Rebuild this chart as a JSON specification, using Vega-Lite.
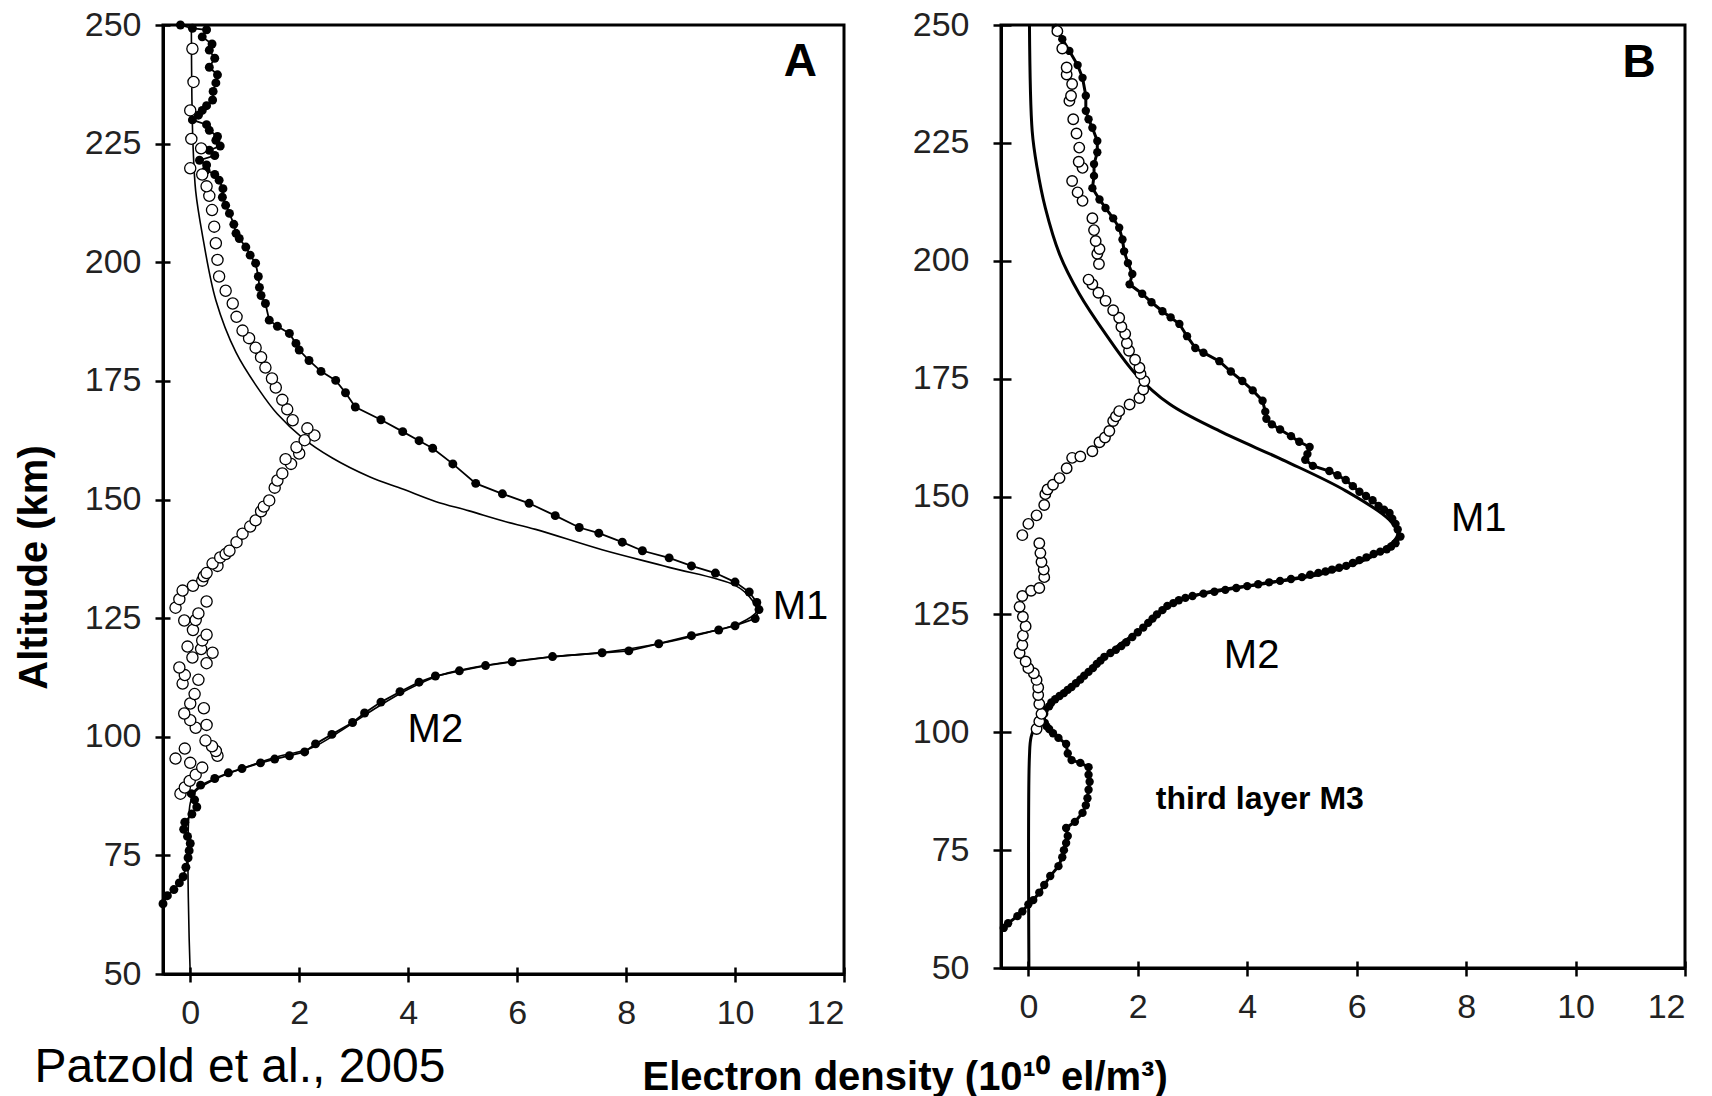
{
  "$schema": "https://vega.github.io/schema/vega-lite/v6.json",
  "background": "white",
  "padding": {"left": 12, "top": 6, "right": 5, "bottom": 0},
  "config": {
    "font": "Liberation Sans",
    "view": {"stroke": "black", "strokeWidth": 3},
    "axis": {"grid": false, "domainColor": "black", "domainWidth": 3, "tickColor": "black", "tickWidth": 2.5, "tickSize": 8, "labelFont": "Liberation Sans", "labelFontSize": 34, "labelColor": "#222", "titleFont": "Liberation Sans", "titleColor": "black"}
  },
  "datasets": {
    "a_model": [
      {"x": 0, "alt": 50}, {"x": 0, "alt": 86}, {"x": 0.1, "alt": 88.5}, {"x": 0.45, "alt": 91}, {"x": 1.0, "alt": 93.5}, {"x": 1.6, "alt": 95.8}, {"x": 2.2, "alt": 97.5}, {"x": 2.8, "alt": 101.5}, {"x": 3.4, "alt": 106}, {"x": 4.0, "alt": 110}, {"x": 4.6, "alt": 113}, {"x": 5.4, "alt": 115}, {"x": 6.6, "alt": 116.8}, {"x": 7.6, "alt": 117.8}, {"x": 8.6, "alt": 119.6}, {"x": 9.5, "alt": 122}, {"x": 10.1, "alt": 124}, {"x": 10.4, "alt": 126.5}, {"x": 10.3, "alt": 129}, {"x": 10.0, "alt": 131.9}, {"x": 8.79, "alt": 135.7}, {"x": 7.56, "alt": 139.4}, {"x": 6.34, "alt": 143.7}, {"x": 5.73, "alt": 145.5}, {"x": 5.12, "alt": 147.6}, {"x": 4.5, "alt": 149.6}, {"x": 3.9, "alt": 152.2}, {"x": 3.29, "alt": 154.8}, {"x": 2.6, "alt": 158.8}, {"x": 2.06, "alt": 163}, {"x": 1.6, "alt": 168}, {"x": 1.27, "alt": 173}, {"x": 0.84, "alt": 181}, {"x": 0.47, "alt": 192}, {"x": 0.22, "alt": 206}, {"x": 0.1, "alt": 215}, {"x": 0.05, "alt": 225}, {"x": 0.03, "alt": 235}, {"x": 0.02, "alt": 250}
    ],
    "a_filled": [
      {"x": -0.5, "alt": 64.8}, {"x": -0.42, "alt": 66.5}, {"x": -0.3, "alt": 67.8}, {"x": -0.2, "alt": 69.2}, {"x": -0.13, "alt": 70.5}, {"x": -0.08, "alt": 72.5}, {"x": -0.04, "alt": 74.5}, {"x": -0.02, "alt": 76}, {"x": 0.0, "alt": 77.5}, {"x": -0.05, "alt": 79}, {"x": -0.12, "alt": 80.5}, {"x": -0.1, "alt": 82}, {"x": 0.03, "alt": 83.7}, {"x": 0.12, "alt": 85.2}, {"x": 0.08, "alt": 86.7}, {"x": 0.02, "alt": 88}, {"x": 0.19, "alt": 89.8}, {"x": 0.45, "alt": 91.2}, {"x": 0.7, "alt": 92.4}, {"x": 0.95, "alt": 93.3}, {"x": 1.29, "alt": 94.5}, {"x": 1.55, "alt": 95.3}, {"x": 1.82, "alt": 96}, {"x": 2.1, "alt": 96.8}, {"x": 2.3, "alt": 98.5}, {"x": 2.6, "alt": 100.5}, {"x": 2.98, "alt": 103}, {"x": 3.2, "alt": 105}, {"x": 3.5, "alt": 107.3}, {"x": 3.85, "alt": 109.5}, {"x": 4.2, "alt": 111.5}, {"x": 4.5, "alt": 112.8}, {"x": 4.94, "alt": 113.9}, {"x": 5.42, "alt": 115}, {"x": 5.91, "alt": 115.8}, {"x": 6.65, "alt": 116.9}, {"x": 7.56, "alt": 117.7}, {"x": 8.05, "alt": 118.1}, {"x": 8.6, "alt": 119.6}, {"x": 9.2, "alt": 121.3}, {"x": 9.7, "alt": 122.5}, {"x": 10.0, "alt": 123.4}, {"x": 10.37, "alt": 124.9}, {"x": 10.44, "alt": 126.8}, {"x": 10.4, "alt": 128.3}, {"x": 10.26, "alt": 130.5}, {"x": 10.0, "alt": 132.6}, {"x": 9.64, "alt": 134.5}, {"x": 9.2, "alt": 136}, {"x": 8.79, "alt": 137.7}, {"x": 8.3, "alt": 139.2}, {"x": 7.93, "alt": 141}, {"x": 7.5, "alt": 142.9}, {"x": 7.14, "alt": 144.1}, {"x": 6.7, "alt": 146.6}, {"x": 6.22, "alt": 149.2}, {"x": 5.73, "alt": 151.2}, {"x": 5.24, "alt": 153.4}, {"x": 4.82, "alt": 157.5}, {"x": 4.45, "alt": 160.8}, {"x": 4.2, "alt": 162.4}, {"x": 3.9, "alt": 164.3}, {"x": 3.5, "alt": 166.8}, {"x": 3.03, "alt": 169.5}, {"x": 2.85, "alt": 172.5}, {"x": 2.67, "alt": 175.1}, {"x": 2.4, "alt": 177}, {"x": 2.18, "alt": 179.3}, {"x": 2.0, "alt": 181.5}, {"x": 1.94, "alt": 182.9}, {"x": 1.82, "alt": 185}, {"x": 1.6, "alt": 186.5}, {"x": 1.45, "alt": 187.8}, {"x": 1.38, "alt": 191.3}, {"x": 1.3, "alt": 193}, {"x": 1.27, "alt": 194.7}, {"x": 1.25, "alt": 197}, {"x": 1.2, "alt": 199.8}, {"x": 1.1, "alt": 201.5}, {"x": 1.02, "alt": 203.2}, {"x": 0.9, "alt": 205}, {"x": 0.84, "alt": 206.1}, {"x": 0.8, "alt": 208}, {"x": 0.72, "alt": 210.3}, {"x": 0.65, "alt": 212}, {"x": 0.59, "alt": 213.7}, {"x": 0.6, "alt": 215.5}, {"x": 0.53, "alt": 217.3}, {"x": 0.45, "alt": 218.5}, {"x": 0.29, "alt": 219.4}, {"x": 0.3, "alt": 220.5}, {"x": 0.17, "alt": 221.5}, {"x": 0.45, "alt": 222.5}, {"x": 0.35, "alt": 223.6}, {"x": 0.55, "alt": 224.5}, {"x": 0.47, "alt": 225.7}, {"x": 0.5, "alt": 226.5}, {"x": 0.35, "alt": 227.8}, {"x": 0.3, "alt": 229}, {"x": 0.04, "alt": 230}, {"x": 0.15, "alt": 231}, {"x": 0.22, "alt": 232}, {"x": 0.3, "alt": 233}, {"x": 0.41, "alt": 234.2}, {"x": 0.42, "alt": 236}, {"x": 0.47, "alt": 237.8}, {"x": 0.5, "alt": 239.5}, {"x": 0.35, "alt": 241.1}, {"x": 0.45, "alt": 243}, {"x": 0.35, "alt": 244.7}, {"x": 0.4, "alt": 246}, {"x": 0.22, "alt": 247.5}, {"x": 0.3, "alt": 249}, {"x": 0.04, "alt": 249.3}, {"x": -0.18, "alt": 250}
    ],
    "a_open": [
      {"x": 0.04, "alt": 245}, {"x": 0.06, "alt": 238}, {"x": 0.0, "alt": 232}, {"x": 0.02, "alt": 226}, {"x": 0.2, "alt": 224}, {"x": 0.0, "alt": 219.8}, {"x": 0.22, "alt": 218.5}, {"x": 0.3, "alt": 216}, {"x": 0.35, "alt": 214}, {"x": 0.4, "alt": 211}, {"x": 0.44, "alt": 207.5}, {"x": 0.47, "alt": 204}, {"x": 0.5, "alt": 200.5}, {"x": 0.53, "alt": 197}, {"x": 0.65, "alt": 194}, {"x": 0.78, "alt": 191.3}, {"x": 0.85, "alt": 188.5}, {"x": 0.96, "alt": 185.6}, {"x": 1.08, "alt": 184}, {"x": 1.2, "alt": 182}, {"x": 1.3, "alt": 180}, {"x": 1.38, "alt": 177.8}, {"x": 1.5, "alt": 175.5}, {"x": 1.57, "alt": 173.6}, {"x": 1.69, "alt": 171}, {"x": 1.78, "alt": 169}, {"x": 1.88, "alt": 166.7}, {"x": 2.15, "alt": 165}, {"x": 2.28, "alt": 163.5}, {"x": 2.1, "alt": 162.5}, {"x": 1.95, "alt": 161}, {"x": 2.0, "alt": 159.7}, {"x": 1.75, "alt": 158.5}, {"x": 1.85, "alt": 157.5}, {"x": 1.69, "alt": 155.5}, {"x": 1.6, "alt": 154}, {"x": 1.55, "alt": 152.5}, {"x": 1.45, "alt": 149.8}, {"x": 1.35, "alt": 148.5}, {"x": 1.3, "alt": 147.5}, {"x": 1.2, "alt": 145.6}, {"x": 1.1, "alt": 144.3}, {"x": 0.96, "alt": 142.8}, {"x": 0.85, "alt": 141}, {"x": 0.72, "alt": 139.2}, {"x": 0.65, "alt": 138.5}, {"x": 0.55, "alt": 137.8}, {"x": 0.41, "alt": 136.5}, {"x": 0.5, "alt": 136}, {"x": 0.3, "alt": 134.5}, {"x": 0.25, "alt": 133.8}, {"x": 0.22, "alt": 132.9}, {"x": 0.05, "alt": 131.8}, {"x": -0.14, "alt": 130.8}, {"x": -0.2, "alt": 129}, {"x": 0.3, "alt": 128.5}, {"x": -0.27, "alt": 127.2}, {"x": 0.15, "alt": 126}, {"x": -0.11, "alt": 124.5}, {"x": 0.1, "alt": 124.6}, {"x": 0.05, "alt": 122.5}, {"x": 0.3, "alt": 121.5}, {"x": 0.22, "alt": 120.3}, {"x": -0.05, "alt": 119}, {"x": 0.2, "alt": 118.5}, {"x": 0.41, "alt": 117.7}, {"x": 0.04, "alt": 116.7}, {"x": 0.3, "alt": 115.5}, {"x": -0.2, "alt": 114.6}, {"x": -0.1, "alt": 113}, {"x": 0.15, "alt": 112}, {"x": -0.14, "alt": 111.2}, {"x": 0.08, "alt": 109}, {"x": 0.0, "alt": 107}, {"x": 0.25, "alt": 106}, {"x": -0.11, "alt": 104.9}, {"x": 0.0, "alt": 103.5}, {"x": 0.3, "alt": 102.5}, {"x": 0.1, "alt": 101.9}, {"x": 0.28, "alt": 99.2}, {"x": 0.4, "alt": 98}, {"x": -0.1, "alt": 97.5}, {"x": 0.47, "alt": 97}, {"x": 0.5, "alt": 96}, {"x": -0.27, "alt": 95.4}, {"x": 0.0, "alt": 94.5}, {"x": 0.22, "alt": 93.5}, {"x": 0.1, "alt": 92}, {"x": -0.01, "alt": 90.7}, {"x": -0.1, "alt": 89.3}, {"x": -0.18, "alt": 88}
    ],
    "b_model": [
      {"x": 0.01, "alt": 50}, {"x": 0.02, "alt": 95}, {"x": 0.05, "alt": 99}, {"x": 0.15, "alt": 102}, {"x": 0.35, "alt": 105}, {"x": 0.7, "alt": 109}, {"x": 1.1, "alt": 113}, {"x": 1.6, "alt": 118}, {"x": 2.2, "alt": 123}, {"x": 2.6, "alt": 127}, {"x": 3.2, "alt": 129.5}, {"x": 4.3, "alt": 131.5}, {"x": 5.5, "alt": 134}, {"x": 6.4, "alt": 138}, {"x": 6.75, "alt": 142}, {"x": 6.6, "alt": 145}, {"x": 5.8, "alt": 151.2}, {"x": 4.7, "alt": 157.5}, {"x": 3.49, "alt": 163.9}, {"x": 2.58, "alt": 169.6}, {"x": 1.96, "alt": 176}, {"x": 1.41, "alt": 184.5}, {"x": 0.93, "alt": 193}, {"x": 0.57, "alt": 201.4}, {"x": 0.31, "alt": 211.2}, {"x": 0.16, "alt": 219.7}, {"x": 0.07, "alt": 227.5}, {"x": 0.02, "alt": 250}
    ],
    "b_filled": [
      {"x": -0.45, "alt": 58.5}, {"x": -0.37, "alt": 59.5}, {"x": -0.2, "alt": 61}, {"x": -0.11, "alt": 62}, {"x": 0.0, "alt": 63.5}, {"x": 0.09, "alt": 64.4}, {"x": 0.2, "alt": 66}, {"x": 0.29, "alt": 67.6}, {"x": 0.4, "alt": 69.5}, {"x": 0.55, "alt": 71.6}, {"x": 0.62, "alt": 73.5}, {"x": 0.65, "alt": 75}, {"x": 0.69, "alt": 76.5}, {"x": 0.72, "alt": 78}, {"x": 0.69, "alt": 79.7}, {"x": 0.85, "alt": 81}, {"x": 0.99, "alt": 82.9}, {"x": 1.05, "alt": 84.5}, {"x": 1.08, "alt": 86}, {"x": 1.1, "alt": 87.8}, {"x": 1.12, "alt": 89.5}, {"x": 1.1, "alt": 91}, {"x": 1.1, "alt": 92.6}, {"x": 0.95, "alt": 93.5}, {"x": 0.79, "alt": 94.1}, {"x": 0.72, "alt": 95.5}, {"x": 0.69, "alt": 97.5}, {"x": 0.55, "alt": 98.8}, {"x": 0.45, "alt": 99.8}, {"x": 0.38, "alt": 100.7}, {"x": 0.33, "alt": 101.3}, {"x": 0.3, "alt": 102}, {"x": 0.29, "alt": 103.9}, {"x": 0.3, "alt": 104.7}, {"x": 0.38, "alt": 105.5}, {"x": 0.42, "alt": 106.3}, {"x": 0.49, "alt": 107}, {"x": 0.57, "alt": 107.7}, {"x": 0.65, "alt": 108.3}, {"x": 0.72, "alt": 109}, {"x": 0.79, "alt": 109.6}, {"x": 0.87, "alt": 110.4}, {"x": 0.95, "alt": 111.2}, {"x": 1.02, "alt": 112}, {"x": 1.1, "alt": 112.8}, {"x": 1.18, "alt": 113.6}, {"x": 1.25, "alt": 114.5}, {"x": 1.32, "alt": 115.2}, {"x": 1.39, "alt": 116}, {"x": 1.5, "alt": 116.8}, {"x": 1.6, "alt": 117.5}, {"x": 1.7, "alt": 118.3}, {"x": 1.79, "alt": 119.1}, {"x": 1.9, "alt": 120.2}, {"x": 2.0, "alt": 121.2}, {"x": 2.1, "alt": 122.2}, {"x": 2.19, "alt": 123.2}, {"x": 2.27, "alt": 124.1}, {"x": 2.35, "alt": 125}, {"x": 2.45, "alt": 125.9}, {"x": 2.54, "alt": 126.8}, {"x": 2.65, "alt": 127.4}, {"x": 2.75, "alt": 128}, {"x": 2.87, "alt": 128.5}, {"x": 3.0, "alt": 128.9}, {"x": 3.2, "alt": 129.4}, {"x": 3.4, "alt": 129.8}, {"x": 3.6, "alt": 130.2}, {"x": 3.8, "alt": 130.6}, {"x": 4.0, "alt": 131}, {"x": 4.2, "alt": 131.4}, {"x": 4.4, "alt": 131.8}, {"x": 4.6, "alt": 132.1}, {"x": 4.8, "alt": 132.5}, {"x": 5.0, "alt": 132.9}, {"x": 5.15, "alt": 133.4}, {"x": 5.3, "alt": 133.8}, {"x": 5.43, "alt": 134.1}, {"x": 5.55, "alt": 134.5}, {"x": 5.68, "alt": 134.9}, {"x": 5.81, "alt": 135.3}, {"x": 5.93, "alt": 135.9}, {"x": 6.05, "alt": 136.5}, {"x": 6.18, "alt": 137.1}, {"x": 6.31, "alt": 137.8}, {"x": 6.43, "alt": 138.3}, {"x": 6.55, "alt": 138.8}, {"x": 6.63, "alt": 139.4}, {"x": 6.71, "alt": 140.1}, {"x": 6.8, "alt": 141.5}, {"x": 6.75, "alt": 143}, {"x": 6.71, "alt": 144.2}, {"x": 6.65, "alt": 145.3}, {"x": 6.6, "alt": 146.5}, {"x": 6.5, "alt": 147.2}, {"x": 6.4, "alt": 148}, {"x": 6.29, "alt": 149.2}, {"x": 6.17, "alt": 150.1}, {"x": 6.05, "alt": 151}, {"x": 5.93, "alt": 152.2}, {"x": 5.8, "alt": 153.5}, {"x": 5.65, "alt": 154.5}, {"x": 5.5, "alt": 155.4}, {"x": 5.2, "alt": 156.5}, {"x": 5.06, "alt": 157.8}, {"x": 5.1, "alt": 159}, {"x": 5.14, "alt": 160.5}, {"x": 4.95, "alt": 161.6}, {"x": 4.8, "alt": 162.8}, {"x": 4.6, "alt": 164.2}, {"x": 4.45, "alt": 165.3}, {"x": 4.35, "alt": 166.5}, {"x": 4.33, "alt": 168}, {"x": 4.28, "alt": 170.3}, {"x": 4.1, "alt": 172.5}, {"x": 3.91, "alt": 174.5}, {"x": 3.7, "alt": 176.5}, {"x": 3.49, "alt": 178.7}, {"x": 3.2, "alt": 180.5}, {"x": 3.05, "alt": 181.5}, {"x": 2.9, "alt": 184}, {"x": 2.76, "alt": 186.6}, {"x": 2.6, "alt": 188}, {"x": 2.45, "alt": 189.3}, {"x": 2.25, "alt": 191.2}, {"x": 2.08, "alt": 193}, {"x": 1.85, "alt": 195}, {"x": 1.9, "alt": 197.2}, {"x": 1.82, "alt": 199.5}, {"x": 1.75, "alt": 202}, {"x": 1.72, "alt": 204.5}, {"x": 1.66, "alt": 207}, {"x": 1.55, "alt": 209}, {"x": 1.41, "alt": 211.2}, {"x": 1.3, "alt": 213}, {"x": 1.17, "alt": 215.4}, {"x": 1.2, "alt": 218}, {"x": 1.2, "alt": 220.5}, {"x": 1.26, "alt": 223}, {"x": 1.26, "alt": 225.4}, {"x": 1.17, "alt": 228.2}, {"x": 1.1, "alt": 230}, {"x": 1.05, "alt": 231.8}, {"x": 1.05, "alt": 235}, {"x": 0.99, "alt": 238.8}, {"x": 0.9, "alt": 241.5}, {"x": 0.75, "alt": 244.5}, {"x": 0.62, "alt": 247}, {"x": 0.5, "alt": 249.4}
    ],
    "b_open": [
      {"x": 0.53, "alt": 248.7}, {"x": 0.62, "alt": 245}, {"x": 0.7, "alt": 241}, {"x": 0.7, "alt": 239.5}, {"x": 0.8, "alt": 237.5}, {"x": 0.78, "alt": 235}, {"x": 0.75, "alt": 233.9}, {"x": 0.82, "alt": 230}, {"x": 0.88, "alt": 227}, {"x": 0.93, "alt": 224}, {"x": 0.92, "alt": 221}, {"x": 0.99, "alt": 219.7}, {"x": 0.8, "alt": 216.9}, {"x": 0.9, "alt": 214.5}, {"x": 0.99, "alt": 212.7}, {"x": 1.17, "alt": 209}, {"x": 1.2, "alt": 206.5}, {"x": 1.23, "alt": 204.2}, {"x": 1.3, "alt": 202.5}, {"x": 1.26, "alt": 201.5}, {"x": 1.29, "alt": 199.3}, {"x": 1.1, "alt": 196}, {"x": 1.17, "alt": 195}, {"x": 1.28, "alt": 193.2}, {"x": 1.41, "alt": 191.5}, {"x": 1.55, "alt": 189.5}, {"x": 1.66, "alt": 187.9}, {"x": 1.7, "alt": 186}, {"x": 1.77, "alt": 184.5}, {"x": 1.8, "alt": 182.5}, {"x": 1.84, "alt": 180.9}, {"x": 1.95, "alt": 179}, {"x": 2.03, "alt": 177.3}, {"x": 2.05, "alt": 176}, {"x": 2.12, "alt": 174.5}, {"x": 2.1, "alt": 172.7}, {"x": 2.03, "alt": 170.9}, {"x": 1.85, "alt": 169.5}, {"x": 1.66, "alt": 168.1}, {"x": 1.6, "alt": 167}, {"x": 1.55, "alt": 166}, {"x": 1.48, "alt": 163.9}, {"x": 1.4, "alt": 162.5}, {"x": 1.3, "alt": 161.5}, {"x": 1.17, "alt": 159.6}, {"x": 0.95, "alt": 158.5}, {"x": 0.8, "alt": 158.2}, {"x": 0.7, "alt": 156}, {"x": 0.57, "alt": 153.9}, {"x": 0.45, "alt": 152.5}, {"x": 0.35, "alt": 151.5}, {"x": 0.31, "alt": 150.5}, {"x": 0.29, "alt": 148.2}, {"x": 0.15, "alt": 146}, {"x": 0.0, "alt": 144.2}, {"x": -0.11, "alt": 141.8}, {"x": 0.2, "alt": 140.1}, {"x": 0.22, "alt": 138}, {"x": 0.24, "alt": 136.1}, {"x": 0.28, "alt": 134.5}, {"x": 0.29, "alt": 132.9}, {"x": 0.2, "alt": 130.6}, {"x": 0.05, "alt": 130}, {"x": -0.11, "alt": 128.9}, {"x": -0.16, "alt": 126.6}, {"x": -0.1, "alt": 124.5}, {"x": -0.05, "alt": 122.5}, {"x": -0.1, "alt": 120.5}, {"x": -0.11, "alt": 118.5}, {"x": -0.16, "alt": 116.8}, {"x": -0.05, "alt": 115}, {"x": 0.0, "alt": 113.6}, {"x": 0.1, "alt": 112.5}, {"x": 0.15, "alt": 111.1}, {"x": 0.18, "alt": 109.5}, {"x": 0.18, "alt": 107.9}, {"x": 0.2, "alt": 106}, {"x": 0.24, "alt": 103.9}, {"x": 0.2, "alt": 102.3}, {"x": 0.15, "alt": 100.7}
    ],
    "labels": [
      {"panel": "A", "kind": "letter", "text": "A", "x": 11.2, "alt": 242.2},
      {"panel": "A", "kind": "peak", "text": "M1", "x": 11.2, "alt": 127.4},
      {"panel": "A", "kind": "peak", "text": "M2", "x": 4.5, "alt": 101.4},
      {"panel": "B", "kind": "letter", "text": "B", "x": 11.16, "alt": 242},
      {"panel": "B", "kind": "peak", "text": "M1", "x": 8.23, "alt": 145.3},
      {"panel": "B", "kind": "peak", "text": "M2", "x": 4.08, "alt": 116.1},
      {"panel": "B", "kind": "layer", "text": "third layer M3", "x": 4.23, "alt": 85.8}
    ]
  },
  "bounds": "flush",
  "spacing": 157,
  "hconcat": [
    {
      "width": 681,
      "height": 949,
      "resolve": {"axis": {"x": "independent", "y": "independent"}},
      "encoding": {
        "x": {"field": "x", "type": "quantitative", "scale": {"domain": [-0.5, 12], "nice": false, "zero": false}, "axis": null},
        "y": {"field": "alt", "type": "quantitative", "scale": {"domain": [50, 250], "nice": false, "zero": false}, "axis": null},
        "order": {"field": "alt", "type": "quantitative"}
      },
      "layer": [
        {"data": {"name": "a_model"}, "mark": {"type": "line", "color": "black", "strokeWidth": 1.6, "interpolate": "catmull-rom"},
          "encoding": {
            "x": {"field": "x", "type": "quantitative", "scale": {"domain": [-0.5, 12], "nice": false, "zero": false},
              "axis": {"orient": "bottom", "values": [0, 2, 4, 6, 8, 10, 12], "labelPadding": 14, "title": "Patzold et al., 2005", "titleFontSize": 48, "titleFontWeight": "normal", "titleAlign": "left", "titleAnchor": "start", "titleX": -129, "titlePadding": 13}},
            "y": {"field": "alt", "type": "quantitative", "scale": {"domain": [50, 250], "nice": false, "zero": false},
              "axis": {"orient": "left", "values": [50, 75, 100, 125, 150, 175, 200, 225, 250], "labelPadding": 14, "title": "Altitude (km)", "titleFontSize": 40, "titleFontWeight": "bold", "titlePadding": 30, "titleY": 542}}
          }},
        {"data": {"name": "a_model"}, "mark": {"type": "line", "opacity": 0},
          "encoding": {
            "x": {"field": "x", "type": "quantitative", "scale": {"domain": [-0.5, 12], "nice": false, "zero": false},
              "axis": {"orient": "bottom", "offset": -7, "values": [0, 2, 4, 6, 8, 10, 12], "tickSize": 7, "labels": false, "domain": false, "title": null}},
            "y": {"field": "alt", "type": "quantitative", "scale": {"domain": [50, 250], "nice": false, "zero": false},
              "axis": {"orient": "left", "offset": -7, "values": [50, 75, 100, 125, 150, 175, 200, 225, 250], "tickSize": 7, "labels": false, "domain": false, "title": null}}
          }},
        {"data": {"name": "a_filled"}, "mark": {"type": "line", "color": "black", "strokeWidth": 1.8}},
        {"data": {"name": "a_filled"}, "mark": {"type": "circle", "color": "black", "size": 80, "opacity": 1}},
        {"data": {"name": "a_open"}, "mark": {"type": "point", "shape": "circle", "filled": false, "fill": "white", "fillOpacity": 1, "stroke": "black", "strokeWidth": 1.3, "size": 125, "opacity": 1}},
        {"data": {"name": "labels"}, "transform": [{"filter": "datum.panel === 'A' && datum.kind === 'letter'"}], "mark": {"type": "text", "fontSize": 46, "fontWeight": "bold", "align": "center", "baseline": "middle", "color": "black"}, "encoding": {"text": {"field": "text"}}},
        {"data": {"name": "labels"}, "transform": [{"filter": "datum.panel === 'A' && datum.kind === 'peak'"}], "mark": {"type": "text", "fontSize": 40, "align": "center", "baseline": "middle", "color": "black"}, "encoding": {"text": {"field": "text"}}}
      ]
    },
    {
      "width": 684,
      "height": 943,
      "resolve": {"axis": {"x": "independent", "y": "independent"}},
      "encoding": {
        "x": {"field": "x", "type": "quantitative", "scale": {"domain": [-0.5, 12], "nice": false, "zero": false}, "axis": null},
        "y": {"field": "alt", "type": "quantitative", "scale": {"domain": [50, 250], "nice": false, "zero": false}, "axis": null},
        "order": {"field": "alt", "type": "quantitative"}
      },
      "layer": [
        {"data": {"name": "b_model"}, "mark": {"type": "line", "color": "black", "strokeWidth": 3, "interpolate": "catmull-rom"},
          "encoding": {
            "x": {"field": "x", "type": "quantitative", "scale": {"domain": [-0.5, 12], "nice": false, "zero": false},
              "axis": {"orient": "bottom", "values": [0, 2, 4, 6, 8, 10, 12], "labelPadding": 14, "title": "Electron density (10¹⁰ el/m³)", "titleFontSize": 40, "titleFontWeight": "bold", "titleAlign": "left", "titleAnchor": "start", "titleX": -359, "titlePadding": 33}},
            "y": {"field": "alt", "type": "quantitative", "scale": {"domain": [50, 250], "nice": false, "zero": false},
              "axis": {"orient": "left", "values": [50, 75, 100, 125, 150, 175, 200, 225, 250], "labelPadding": 24, "title": null}}
          }},
        {"data": {"name": "b_model"}, "mark": {"type": "line", "opacity": 0},
          "encoding": {
            "x": {"field": "x", "type": "quantitative", "scale": {"domain": [-0.5, 12], "nice": false, "zero": false},
              "axis": {"orient": "bottom", "offset": -7, "values": [0, 2, 4, 6, 8, 10, 12], "tickSize": 7, "labels": false, "domain": false, "title": null}},
            "y": {"field": "alt", "type": "quantitative", "scale": {"domain": [50, 250], "nice": false, "zero": false},
              "axis": {"orient": "left", "offset": -10, "values": [50, 75, 100, 125, 150, 175, 200, 225, 250], "tickSize": 10, "labels": false, "domain": false, "title": null}}
          }},
        {"data": {"name": "b_filled"}, "mark": {"type": "line", "color": "black", "strokeWidth": 3}},
        {"data": {"name": "b_filled"}, "mark": {"type": "circle", "color": "black", "size": 70, "opacity": 1}},
        {"data": {"name": "b_open"}, "mark": {"type": "point", "shape": "circle", "filled": false, "fill": "white", "fillOpacity": 1, "stroke": "black", "strokeWidth": 1.4, "size": 110, "opacity": 1}},
        {"data": {"name": "labels"}, "transform": [{"filter": "datum.panel === 'B' && datum.kind === 'letter'"}], "mark": {"type": "text", "fontSize": 46, "fontWeight": "bold", "align": "center", "baseline": "middle", "color": "black"}, "encoding": {"text": {"field": "text"}}},
        {"data": {"name": "labels"}, "transform": [{"filter": "datum.panel === 'B' && datum.kind === 'peak'"}], "mark": {"type": "text", "fontSize": 40, "align": "center", "baseline": "middle", "color": "black"}, "encoding": {"text": {"field": "text"}}},
        {"data": {"name": "labels"}, "transform": [{"filter": "datum.panel === 'B' && datum.kind === 'layer'"}], "mark": {"type": "text", "fontSize": 32, "fontWeight": "bold", "align": "center", "baseline": "middle", "color": "black"}, "encoding": {"text": {"field": "text"}}}
      ]
    }
  ]
}
